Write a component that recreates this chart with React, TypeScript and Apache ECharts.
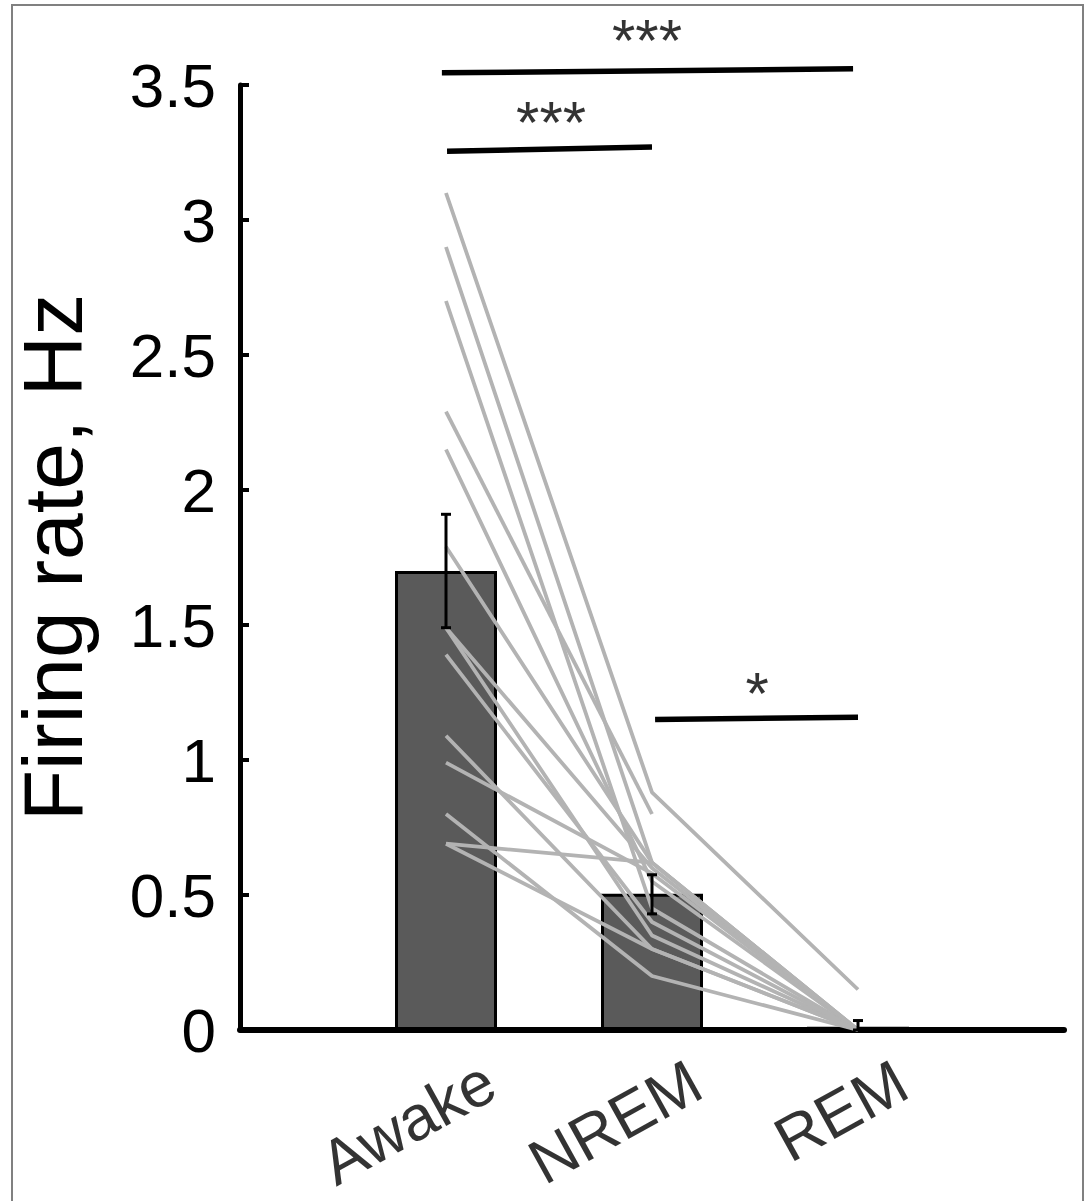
import React, { useEffect, useRef } from "react";
import * as echarts from "echarts";

// ---- data ----
const categories = ["Awake", "NREM", "REM"];
const categoryPos = [1, 2, 3];
const meanRate = [1.7, 0.505, 0.012];
const errLow = [1.49, 0.43, 0.0];
const errHigh = [1.91, 0.575, 0.035];

// individual neurons (awake, NREM, REM); null = not recorded
const awakeRate = [3.1, 2.9, 2.7, 2.29, 2.15, 1.79, 1.49, 1.49, 1.39, 1.09, 0.99, 0.8, 0.69, 0.69];
const nremRate = [0.88, 0.62, 0.45, 0.8, 0.55, 0.62, 0.35, 0.6, 0.4, 0.3, 0.58, 0.2, 0.62, 0.3];
const remRate = [0.15, 0, 0, null, 0, 0, 0, 0, 0, 0, 0, 0, 0, 0];

// significance brackets
const sigFrom = [0.98, 1.005, 2.015];
const sigTo = [2.976, 2.0, 3.0];
const sigYFrom = [3.545, 3.255, 1.15];
const sigYTo = [3.56, 3.27, 1.158];
const sigText = ["***", "***", "*"];
const sigTextX = [1.976, 1.51, 2.51];
const sigTextY = [3.665, 3.36, 1.245];

const yTicks = { min: 0, max: 3.5, interval: 0.5 };
const yName = "Firing rate, Hz";

const FONT = "Liberation Sans, Arial, sans-serif";

export default function App() {
  const ref = useRef<HTMLDivElement>(null);
  useEffect(() => {
    if (!ref.current) return;
    const chart = echarts.init(ref.current, undefined, { renderer: "svg" });

    const neuronSeries = awakeRate.map((a, i) => {
      const pts: any[] = [
        [categoryPos[0], a],
        [categoryPos[1], nremRate[i]],
      ];
      if (remRate[i] !== null) pts.push([categoryPos[2], remRate[i]]);
      return {
        type: "line",
        data: pts,
        symbol: "none",
        silent: true,
        z: 3,
        lineStyle: { color: "#b3b3b3", width: 3.8 },
      };
    });

    const sigSeries = sigFrom.map((f, i) => ({
      type: "line",
      data: [
        [f, sigYFrom[i]],
        [sigTo[i], sigYTo[i]],
      ],
      symbol: "none",
      clip: false,
      silent: true,
      z: 6,
      lineStyle: { color: "#000", width: 5.5, cap: "butt" },
    }));

    const option: any = {
      animation: false,
      backgroundColor: "#fff",
      grid: { left: 240, right: 25, top: 85, bottom: 171, containLabel: false },
      xAxis: {
        type: "value",
        min: 0,
        max: 4,
        interval: 1,
        axisLine: { show: true, lineStyle: { color: "#000", width: 6 } },
        axisTick: { show: false },
        axisLabel: { show: false },
        splitLine: { show: false },
      },
      yAxis: {
        type: "value",
        min: yTicks.min,
        max: yTicks.max,
        interval: yTicks.interval,
        name: yName,
        nameLocation: "middle",
        nameRotate: 90,
        nameGap: 145,
        nameTextStyle: { fontSize: 84, fontFamily: FONT, color: "#000" },
        axisLine: { show: true, lineStyle: { color: "#000", width: 5 } },
        axisTick: { show: true, inside: true, length: 9, lineStyle: { color: "#000", width: 4 } },
        axisLabel: { fontSize: 62, fontFamily: FONT, color: "#000", margin: 24 },
        splitLine: { show: false },
      },
      graphic: [
        {
          type: "rect",
          shape: { x: 12, y: 5, width: 1071, height: 1200 },
          style: { fill: "none", stroke: "#808080", lineWidth: 2 },
          silent: true,
          z: 100,
        },
      ],
      series: [
        {
          type: "bar",
          data: categoryPos.map((x, i) => [x, meanRate[i]]),
          barWidth: 102,
          z: 2,
          silent: true,
          itemStyle: { color: "#5a5a5a", borderColor: "#000", borderWidth: 3 },
        },
        ...neuronSeries,
        {
          type: "custom",
          z: 5,
          silent: true,
          data: categoryPos.map((x, i) => [x, errLow[i], errHigh[i]]),
          renderItem: (params: any, api: any) => {
            const x = api.value(0);
            const lo = api.coord([x, api.value(1)]);
            const hi = api.coord([x, api.value(2)]);
            const cap = 5;
            const st = { stroke: "#000", lineWidth: 3 };
            return {
              type: "group",
              children: [
                { type: "line", shape: { x1: lo[0], y1: lo[1], x2: hi[0], y2: hi[1] }, style: st },
                { type: "line", shape: { x1: hi[0] - cap, y1: hi[1], x2: hi[0] + cap, y2: hi[1] }, style: st },
                { type: "line", shape: { x1: lo[0] - cap, y1: lo[1], x2: lo[0] + cap, y2: lo[1] }, style: st },
              ],
            };
          },
        },
        ...sigSeries,
        {
          type: "scatter",
          symbolSize: 0,
          clip: false,
          silent: true,
          z: 7,
          data: sigText.map((t, i) => ({ value: [sigTextX[i], sigTextY[i]], name: t })),
          label: {
            show: true,
            position: [0, 0],
            align: "center",
            verticalAlign: "middle",
            formatter: (p: any) => p.name,
            fontSize: 60,
            fontFamily: FONT,
            color: "#000",
          },
        },
        {
          type: "scatter",
          symbolSize: 0,
          clip: false,
          silent: true,
          z: 7,
          data: categories.map((c, i) => ({ value: [categoryPos[i], 0], name: c })),
          label: {
            show: true,
            position: [0, 0],
            align: "right",
            verticalAlign: "middle",
            rotate: 29,
            offset: [16, 62],
            formatter: (p: any) => p.name,
            fontSize: 63,
            fontFamily: FONT,
            color: "#000",
          },
        },
      ],
    };
    chart.setOption(option);
    return () => chart.dispose();
  }, []);
  return (
    <div
      ref={ref}
      style={{ position: "fixed", left: 0, top: 0, width: 1089, height: 1201 }}
    />
  );
}
